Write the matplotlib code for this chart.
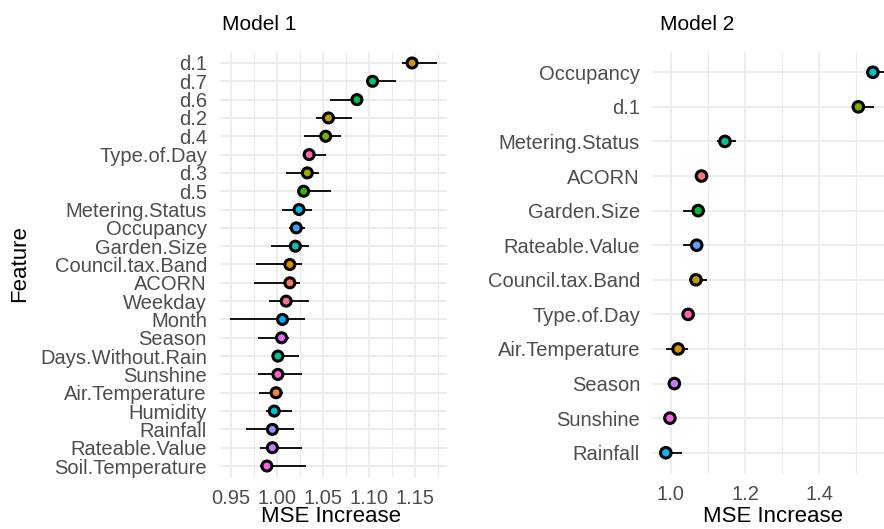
import numpy as np
import matplotlib
matplotlib.use("Agg")
import matplotlib.pyplot as plt

plt.rcParams['font.family'] = ['Liberation Sans', 'DejaVu Sans']

# Model 1 (top to bottom)
features1 = ["d.1", "d.7", "d.6", "d.2", "d.4", "Type.of.Day", "d.3", "d.5",
             "Metering.Status", "Occupancy", "Garden.Size", "Council.tax.Band",
             "ACORN", "Weekday", "Month", "Season", "Days.Without.Rain",
             "Sunshine", "Air.Temperature", "Humidity", "Rainfall",
             "Rateable.Value", "Soil.Temperature"]
mse1 = [1.147, 1.104, 1.087, 1.056, 1.053, 1.035, 1.033, 1.029, 1.024, 1.021,
        1.020, 1.014, 1.014, 1.010, 1.006, 1.005, 1.001, 1.001, 0.999, 0.997,
        0.995, 0.995, 0.989]
lo1 = [1.136, 1.100, 1.058, 1.043, 1.029, 1.030, 1.010, 1.024, 1.005, 1.013,
       0.994, 0.977, 0.975, 0.991, 0.949, 0.979, 0.998, 0.979, 0.980, 0.988,
       0.966, 0.982, 0.981]
hi1 = [1.174, 1.130, 1.082, 1.082, 1.070, 1.053, 1.046, 1.059, 1.038, 1.030,
       1.035, 1.027, 1.025, 1.035, 1.030, 1.013, 1.024, 1.027, 1.007, 1.016,
       1.018, 1.027, 1.032]

# Model 2 (top to bottom)
features2 = ["Occupancy", "d.1", "Metering.Status", "ACORN", "Garden.Size",
             "Rateable.Value", "Council.tax.Band", "Type.of.Day",
             "Air.Temperature", "Season", "Sunshine", "Rainfall"]
mse2 = [1.544, 1.505, 1.146, 1.083, 1.074, 1.070, 1.068, 1.047, 1.020, 1.010,
        0.998, 0.987]
lo2 = [1.538, 1.495, 1.124, 1.078, 1.032, 1.034, 1.060, 1.042, 0.987, 1.005,
       0.993, 0.982]
hi2 = [1.580, 1.548, 1.176, 1.088, 1.080, 1.082, 1.099, 1.052, 1.047, 1.015,
       1.003, 1.030]


def hcl_to_hex(h, c=100, l=65):
    # polarLUV -> sRGB, D65 white like R's hcl()
    xn, yn, zn = 95.047, 100.0, 108.883
    u = c * np.cos(np.radians(h))
    v = c * np.sin(np.radians(h))
    y = yn * ((l + 16) / 116) ** 3 if l > 8 else yn * l / 903.3
    d = xn + 15 * yn + 3 * zn
    un, vn = 4 * xn / d, 9 * yn / d
    up = u / (13 * l) + un
    vp = v / (13 * l) + vn
    x = 9 * y * up / (4 * vp)
    z = -x / 3 - 5 * y + 3 * y / vp
    x, y, z = x / 100, y / 100, z / 100
    r = 3.240479 * x - 1.537150 * y - 0.498535 * z
    g = -0.969256 * x + 1.875992 * y + 0.041556 * z
    b = 0.055648 * x - 0.204043 * y + 1.057311 * z
    out = []
    for ch in (r, g, b):
        ch = 12.92 * ch if ch <= 0.0031308 else 1.055 * ch ** (1 / 2.4) - 0.055
        out.append(min(max(ch, 0), 1))
    return matplotlib.colors.to_hex(out)


def hue_colors(names):
    srt = sorted(names, key=lambda s: s.lower().replace(".", ""))
    n = len(srt)
    pal = {nm: hcl_to_hex(15 + i * 360 / n) for i, nm in enumerate(srt)}
    return [pal[nm] for nm in names]


fig = plt.figure(figsize=(8.84, 5.29), dpi=100)
W, H = 884, 529
ax1 = fig.add_axes([220 / W, 1 - 477 / H, 227 / W, 425 / H])
ax2 = fig.add_axes([651.7 / W, 1 - 473.5 / H, (W - 651.7) / W, 422 / H])

grid_col = "#EBEBEB"
tick_col = "#4D4D4D"


def draw(ax, names, mse, lo, hi, xlim, major, minor, fmt, pad_y, ms):
    y = np.arange(len(names))
    cols = hue_colors(names)
    ax.hlines(y, lo, hi, color="black", lw=1.3, zorder=2)
    ax.scatter(mse, y, s=ms ** 2, c=cols, edgecolors="black", linewidths=2.2, zorder=3)
    ax.set_xlim(*xlim)
    ax.set_ylim(len(names) - 0.4, -0.6)
    ax.set_yticks(y)
    ax.set_yticklabels(names, fontsize=14.5, color=tick_col)
    ax.set_xticks(major)
    ax.set_xticklabels([fmt.format(v) for v in major], fontsize=14.5, color=tick_col)
    ax.set_xticks(minor, minor=True)
    ax.tick_params(axis="both", which="both", length=0)
    ax.tick_params(axis="y", pad=pad_y)
    ax.tick_params(axis="x", pad=8.5)
    ax.grid(True, which="major", color=grid_col, lw=1.3, zorder=0)
    ax.grid(True, which="minor", axis="x", color=grid_col, lw=0.9, zorder=0)
    ax.set_axisbelow(True)
    for s in ax.spines.values():
        s.set_visible(False)


draw(ax1, features1, mse1, lo1, hi1, (0.938, 1.185),
     [0.95, 1.00, 1.05, 1.10, 1.15], [0.975, 1.025, 1.075, 1.125, 1.175],
     "{:.2f}", 9.4, 7.2)
draw(ax2, features2, mse2, lo2, hi2, (0.949, 1.574),
     [1.0, 1.2, 1.4], [1.1, 1.3, 1.5], "{:.1f}", 8.4, 7.6)

fig.text(222 / W, 1 - 25 / H, "Model 1", fontsize=15, ha="left", va="center")
fig.text(660 / W, 1 - 25 / H, "Model 2", fontsize=15, ha="left", va="center")
fig.text(20 / W, 1 - 264 / H, "Feature", fontsize=16, rotation=90,
         ha="center", va="center")
fig.text(331 / W, 1.5 / H, "MSE Increase", fontsize=16, ha="center", va="bottom")
fig.text(773 / W, 1.5 / H, "MSE Increase", fontsize=16, ha="center", va="bottom")

fig.savefig("out.png", dpi=100)
